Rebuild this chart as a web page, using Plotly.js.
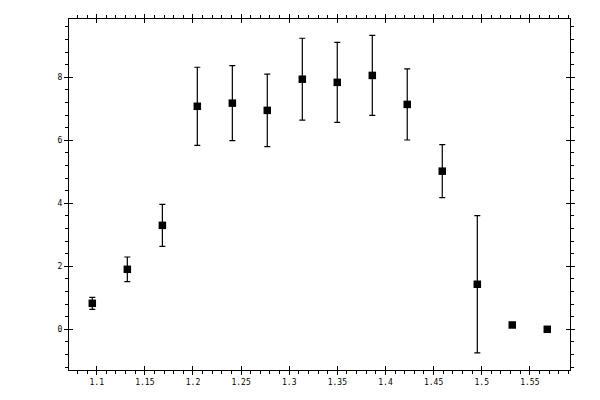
<!DOCTYPE html>
<html>
<head>
<meta charset="utf-8">
<script src="https://cdn.plot.ly/plotly-3.0.1.min.js"></script>
<style>
  html, body { margin: 0; padding: 0; background: #fff; }
  #plot { width: 600px; height: 400px; }
</style>
</head>
<body>
<div id="plot"></div>
<script>
// bin centres, values and symmetric errors
const xVals = [1.0954, 1.1318, 1.1682, 1.2045, 1.2409, 1.2772, 1.3136,
               1.3499, 1.3863, 1.4226, 1.4590, 1.4954, 1.5317, 1.5681];
const yVals = [0.825, 1.905, 3.30, 7.08, 7.18, 6.95, 7.94,
               7.84, 8.06, 7.14, 5.02, 1.43, 0.137, 0.0];
const yErrs = [0.19, 0.39, 0.667, 1.24, 1.19, 1.15, 1.30,
               1.27, 1.27, 1.13, 0.84, 2.18, 0.0, 0.0];

const xRange = [1.0712, 1.5917];
const yRange = [-1.292, 9.851];

const font = { family: 'DejaVu Sans Mono, monospace', size: 8, color: '#000' };

const trace = {
    x: xVals,
    y: yVals,
    mode: 'markers',
    type: 'scatter',
    marker: {
        symbol: 'square',
        color: '#000',
        size: 7.5,
    },
    error_y: {
        type: 'data',
        array: yErrs,
        visible: true,
        color: '#000',
        thickness: 1.2,
        width: 3,
    },
    hoverinfo: 'skip',
};

// empty trace so the overlay axes (inner half of the major ticks) get drawn
const ghost = {
    x: [],
    y: [],
    xaxis: 'x2',
    yaxis: 'y2',
    type: 'scatter',
    mode: 'markers',
    hoverinfo: 'skip',
};

const layout = {
    width: 600,
    height: 400,
    margin: { l: 69, r: 30, t: 19, b: 30 },
    paper_bgcolor: '#fff',
    plot_bgcolor: '#fff',
    showlegend: false,
    dragmode: false,
    font: font,
    xaxis: {
        range: xRange,
        showgrid: false,
        zeroline: false,
        showline: true,
        linecolor: '#000',
        linewidth: 1,
        mirror: 'ticks',
        ticks: 'outside',
        ticklen: 4,
        tickwidth: 1,
        tickcolor: '#000',
        tick0: 0,
        dtick: 0.05,
        tickfont: font,
        minor: { ticks: 'outside', ticklen: 3, tickwidth: 1, tickcolor: '#000', tick0: 0, dtick: 0.01, showgrid: false },
    },
    yaxis: {
        range: yRange,
        showgrid: false,
        zeroline: false,
        showline: true,
        linecolor: '#000',
        linewidth: 1,
        mirror: 'ticks',
        ticks: 'outside',
        ticklen: 4,
        tickwidth: 1,
        tickcolor: '#000',
        tick0: 0,
        dtick: 2,
        tickfont: font,
        minor: { ticks: 'outside', ticklen: 3, tickwidth: 1, tickcolor: '#000', tick0: 0, dtick: 0.4, showgrid: false },
    },
    xaxis2: {
        range: xRange,
        overlaying: 'x',
        anchor: 'y2',
        side: 'bottom',
        showgrid: false,
        zeroline: false,
        showline: false,
        showticklabels: false,
        mirror: 'ticks',
        ticks: 'inside',
        ticklen: 4,
        tickwidth: 1,
        tickcolor: '#000',
        tick0: 0,
        dtick: 0.05,
    },
    yaxis2: {
        range: yRange,
        overlaying: 'y',
        anchor: 'x2',
        side: 'left',
        showgrid: false,
        zeroline: false,
        showline: false,
        showticklabels: false,
        mirror: 'ticks',
        ticks: 'inside',
        ticklen: 4,
        tickwidth: 1,
        tickcolor: '#000',
        tick0: 0,
        dtick: 2,
    },
};

const config = {
    staticPlot: true,
    displayModeBar: false,
};

Plotly.newPlot('plot', [trace, ghost], layout, config);
</script>
</body>
</html>
